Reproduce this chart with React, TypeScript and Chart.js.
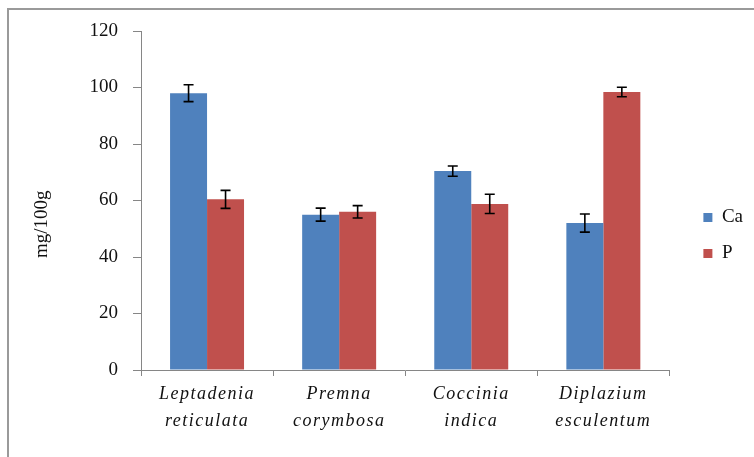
import React, { useEffect, useRef } from 'react';
import { Chart, registerables } from 'chart.js';

Chart.register(...registerables);

const categories: string[][] = [
  ['Leptadenia', 'reticulata'],
  ['Premna', 'corymbosa'],
  ['Coccinia', 'indica'],
  ['Diplazium', 'esculentum'],
];
const caValues = [98, 55, 70.4, 52];
const caErrors = [3, 2.3, 1.8, 3.2];
const pValues = [60.4, 56, 58.8, 98.4];
const pErrors = [3.2, 2.2, 3.4, 1.7];
const yMin = 0;
const yMax = 120;
const yStep = 20;
const yTitle = 'mg/100g' + '\u00A0'.repeat(10);

const SERIF = "'Liberation Serif', 'Times New Roman', serif";
const AXIS_GRAY = '#868686';

const errorBarPlugin = {
  id: 'errorBars',
  beforeDraw(chart: any) {
    (chart.ctx as any).letterSpacing = '0px';
  },
  afterDatasetsDraw(chart: any) {
    const ctx = chart.ctx;
    const yScale = chart.scales.y;
    chart.data.datasets.forEach((ds: any, di: number) => {
      const meta = chart.getDatasetMeta(di);
      meta.data.forEach((bar: any, i: number) => {
        const v = ds.data[i];
        const e = ds.errors[i];
        const x = bar.x;
        const top = yScale.getPixelForValue(v + e);
        const bot = yScale.getPixelForValue(v - e);
        ctx.save();
        ctx.strokeStyle = '#000';
        ctx.lineWidth = 1.6;
        ctx.beginPath();
        ctx.moveTo(x, top);
        ctx.lineTo(x, bot);
        ctx.moveTo(x - 5, top);
        ctx.lineTo(x + 5, top);
        ctx.moveTo(x - 5, bot);
        ctx.lineTo(x + 5, bot);
        ctx.stroke();
        ctx.restore();
      });
    });
    (ctx as any).letterSpacing = '1.5px';
  },
  afterDraw(chart: any) {
    (chart.ctx as any).letterSpacing = '0px';
  },
};

export default function App() {
  const ref = useRef<HTMLCanvasElement>(null);

  useEffect(() => {
    if (!ref.current) return;
    const chart = new Chart(ref.current, {
      type: 'bar',
      data: {
        labels: categories,
        datasets: [
          {
            label: 'Ca',
            data: caValues,
            errors: caErrors,
            backgroundColor: '#4F81BD',
            borderWidth: 0,
            categoryPercentage: 0.56,
            barPercentage: 1,
            yAxisID: 'y',
          } as any,
          {
            label: 'P',
            data: pValues,
            errors: pErrors,
            backgroundColor: '#C0504D',
            borderWidth: 0,
            categoryPercentage: 0.56,
            barPercentage: 1,
            yAxisID: 'y',
          } as any,
        ],
      },
      options: {
        responsive: false,
        animation: false,
        devicePixelRatio: 1,
        layout: { padding: { top: 31, left: 8, right: 1, bottom: 17 } },
        plugins: {
          tooltip: { enabled: false },
          legend: {
            position: 'right',
            align: 'center',
            labels: {
              boxWidth: 9,
              boxHeight: 9,
              padding: 17,
              color: '#111',
              font: { family: SERIF, size: 19 },
            },
          },
        },
        scales: {
          x: {
            grid: {
              display: true,
              drawOnChartArea: false,
              tickLength: 6,
              color: AXIS_GRAY,
              offset: true,
            },
            border: { display: true, color: AXIS_GRAY, width: 1 },
            ticks: {
              z: 1,
              padding: 5,
              color: '#111',
              maxRotation: 0,
              autoSkip: false,
              font: { family: SERIF, size: 18, style: 'italic', lineHeight: 1.5 },
            },
          },
          y: {
            min: yMin,
            max: yMax,
            grid: {
              display: true,
              drawOnChartArea: false,
              tickLength: 8,
              color: AXIS_GRAY,
            },
            border: { display: true, color: AXIS_GRAY, width: 1 },
            ticks: {
              stepSize: yStep,
              padding: 15,
              color: '#111',
              font: { family: SERIF, size: 19 },
            },
            title: {
              display: true,
              text: yTitle,
              color: '#111',
              font: { family: SERIF, size: 19 },
              padding: { top: 22.6, bottom: 44 },
            },
            afterFit: (s: any) => {
              s.width = 133;
            },
          },
          y2: {
            type: 'linear',
            position: 'right',
            display: true,
            grid: { display: false, drawTicks: false },
            border: { display: false },
            ticks: { display: false },
            afterFit: (s: any) => {
              s.width = 17;
            },
          },
        },
      } as any,
      plugins: [errorBarPlugin],
    });
    return () => chart.destroy();
  }, []);

  return (
    <>
      <div
        style={{
          position: 'fixed',
          left: 7,
          top: 8,
          right: -20,
          bottom: -20,
          border: '2px solid #9a9a9a',
          boxSizing: 'border-box',
        }}
      />
      <canvas
        ref={ref}
        width={754}
        height={457}
        style={{ position: 'fixed', left: 0, top: 0, width: 754, height: 457 }}
      />
    </>
  );
}
